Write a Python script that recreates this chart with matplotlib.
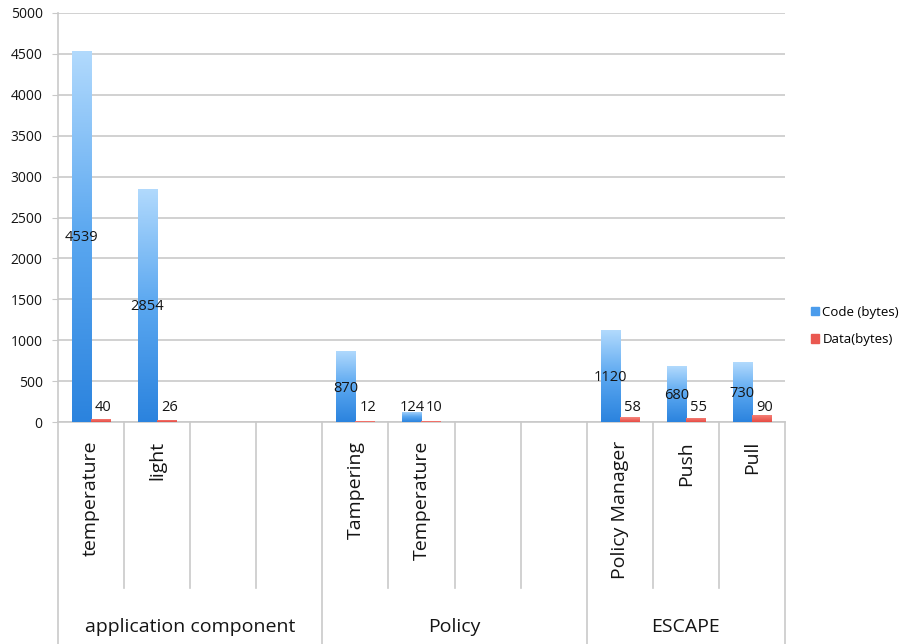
import matplotlib
matplotlib.use("Agg")
import matplotlib.pyplot as plt
from matplotlib.patches import Patch
import numpy as np

# data
categories = ["temperature", "light", "", "", "Tampering", "Temperature", "", "",
              "Policy Manager", "Push", "Pull"]
groups = ["application component", "Policy", "ESCAPE"]
group_sizes = [4, 4, 3]
code_bytes = [4539, 2854, None, None, 870, 124, None, None, 1120, 680, 730]
data_bytes = [40, 26, None, None, 12, 10, None, None, 58, 55, 90]
yticks = [0, 500, 1000, 1500, 2000, 2500, 3000, 3500, 4000, 4500, 5000]

plt.rcParams['font.family'] = ['Open Sans', 'DejaVu Sans']

W, H = 904, 644
fig = plt.figure(figsize=(W / 100, H / 100), dpi=100)
ax = fig.add_axes([58 / W, (H - 422) / H, (785 - 58) / W, (422 - 13) / H])

grid_c = '#c9c9c9'
text_c = '#151515'
bw = 0.29

x = np.arange(len(categories))
gradient = np.linspace(0, 1, 256).reshape(-1, 1)
blue_cmap = matplotlib.colors.LinearSegmentedColormap.from_list(
    'b', ['#2b83de', '#5aa7f0', '#b2dafd'])
red_cmap = matplotlib.colors.LinearSegmentedColormap.from_list(
    'r', ['#e64b44', '#f7877e'])

for i, (c, d) in enumerate(zip(code_bytes, data_bytes)):
    if c is None:
        continue
    cb = ax.bar(x[i] - bw / 2, c, bw, color='#5aa7f0', zorder=2)[0]
    db = ax.bar(x[i] + bw / 2, d, bw, color='#ea5850', zorder=2)[0]
    for bar, cmap in ((cb, blue_cmap), (db, red_cmap)):
        x0 = bar.get_x()
        im = ax.imshow(gradient, extent=[x0, x0 + bw, 0, bar.get_height()],
                       origin='lower', aspect='auto', cmap=cmap, zorder=3)
        im.set_clip_path(bar)
    ax.text(x[i] - bw / 2, max(c / 2 - 20, 180), str(c), ha='center', va='center',
            fontsize=10.5, color=text_c, zorder=4)
    ax.text(x[i] + bw / 2 + 0.04, max(d / 2, 180), str(d), ha='center', va='center',
            fontsize=10.5, color=text_c, zorder=4)

ax.set_xlim(-0.5, len(categories) - 0.5)
ax.set_ylim(0, 5000)
ax.set_yticks(yticks)
ax.set_yticklabels([str(t) for t in yticks], fontsize=10, color=text_c)
ax.yaxis.grid(True, color=grid_c, linewidth=1.2)
ax.set_axisbelow(True)
ax.tick_params(axis='y', length=4, color=grid_c, pad=7)
ax.set_xticks([])
for s in ('top', 'right'):
    ax.spines[s].set_visible(False)
ax.spines['left'].set_color(grid_c)
ax.spines['bottom'].set_color(grid_c)
ax.spines['left'].set_linewidth(1.2)
ax.spines['bottom'].set_linewidth(1.2)

# two-level category axis drawn below the plot
trans = ax.get_xaxis_transform()
inner_bottom = -(588 - 422) / 409
outer_bottom = -(H - 422) / 409
edges = np.cumsum([0] + group_sizes) - 0.5
for b in range(len(categories) + 1):
    xb = b - 0.5
    low = outer_bottom if xb in edges else inner_bottom
    ax.plot([xb, xb], [0, low], transform=trans, color=grid_c, lw=1.2,
            clip_on=False, zorder=1)

for i, name in enumerate(categories):
    if name:
        ax.text(x[i], -(441 - 422) / 409, name, transform=trans, rotation=90,
                ha='center', va='top', fontsize=14, color=text_c)

for g, name in enumerate(groups):
    mid = (edges[g] + edges[g + 1]) / 2
    ax.text(mid, -(627 - 422) / 409, name, transform=trans, ha='center',
            va='center', fontsize=14, color=text_c)

handles = [Patch(color='#4b9cec', label='Code (bytes)'),
           Patch(color='#ea5850', label='Data(bytes)')]
ax.legend(handles=handles, loc='center left', bbox_to_anchor=(802 / W, 1 - 326 / H),
          bbox_transform=fig.transFigure, frameon=False, fontsize=9.5,
          handlelength=0.6, handleheight=0.6, handletextpad=0.25, labelspacing=1.1,
          borderpad=0.2)

fig.savefig('out.png', dpi=100)
